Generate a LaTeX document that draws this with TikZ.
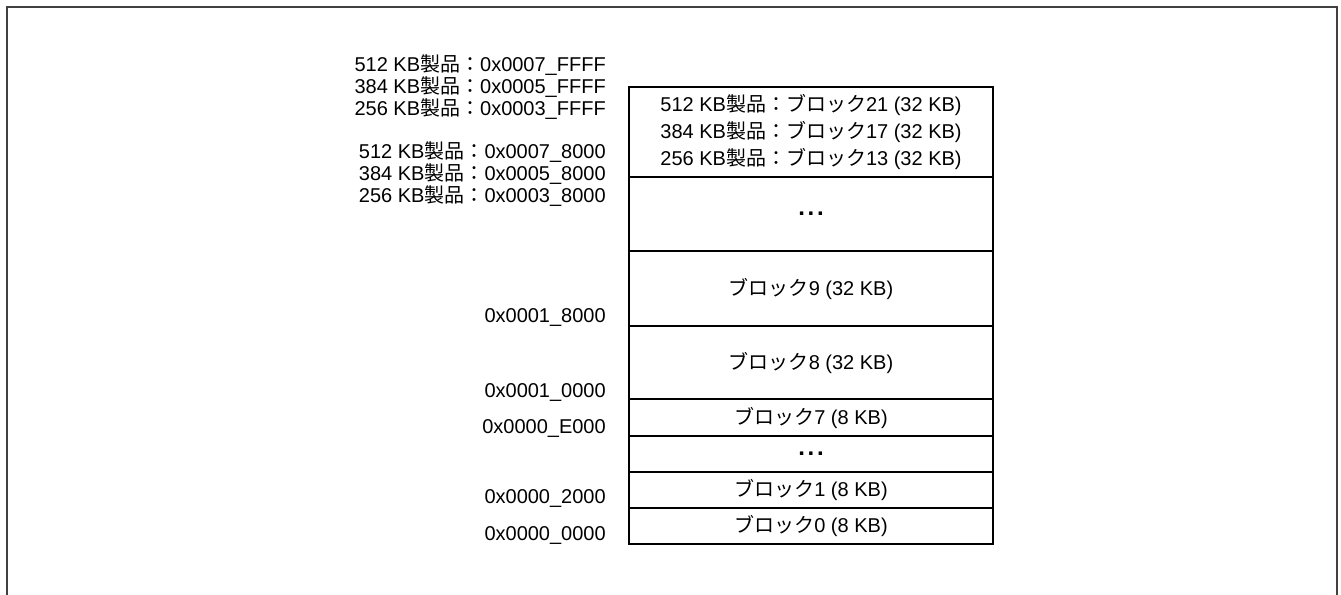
\documentclass[tikz,border=0pt]{standalone}
\usepackage{fontspec}
\setmainfont{Liberation Sans}
\newfontfamily\jpfont{Noto Sans CJK JP}
\newcommand{\jtxt}[1]{{\jpfont #1}}
\newcommand{\blkdots}{{\bfseries\fontsize{18}{18}\selectfont .\kern2pt.\kern2pt.}}
\usetikzlibrary{positioning}

\begin{document}
\begin{tikzpicture}[x=0.75pt, y=-0.75pt,
    every node/.style={font=\fontsize{15}{16.3}\selectfont},
    blk/.style={draw, line width=1.2pt, minimum width=273pt, inner sep=0pt, outer sep=0pt, align=center},
    addr/.style={anchor=east, inner sep=0pt, align=right},
    frame/.style={draw=black!75, line width=1.5pt}]
  \useasboundingbox (0,0) rectangle (1341,594);
  \draw[frame] (7,600) -- (7,7) -- (1337,7) -- (1337,600);

  % flash blocks, top to bottom
  \node[blk, anchor=north, minimum height=67.5pt, font=\fontsize{15}{20.25}\selectfont] (b21) at (811,87)
    {512 KB\jtxt{製品：ブロック}21 (32 KB)\\384 KB\jtxt{製品：ブロック}17 (32 KB)\\256 KB\jtxt{製品：ブロック}13 (32 KB)};
  \node[blk, minimum height=55.5pt, below=0pt of b21] (dotsHi) {\blkdots};
  \node[blk, minimum height=56.25pt, below=0pt of dotsHi] (b9) {\jtxt{ブロック}9 (32 KB)};
  \node[blk, minimum height=54.75pt, below=0pt of b9] (b8) {\jtxt{ブロック}8 (32 KB)};
  \node[blk, minimum height=27.75pt, below=0pt of b8] (b7) {\jtxt{ブロック}7 (8 KB)};
  \node[blk, minimum height=27pt, below=0pt of b7] (dotsLo) {\blkdots};
  \node[blk, minimum height=27pt, below=0pt of dotsLo] (b1) {\jtxt{ブロック}1 (8 KB)};
  \node[blk, minimum height=27pt, below=0pt of b1] (b0) {\jtxt{ブロック}0 (8 KB)};

  % addresses
  \node[addr] (endAddr) at (606,87)
    {512 KB\jtxt{製品：}0x0007\_FFFF\\384 KB\jtxt{製品：}0x0005\_FFFF\\256 KB\jtxt{製品：}0x0003\_FFFF};
  \node[addr] (lastAddr) at (606,174)
    {512 KB\jtxt{製品：}0x0007\_8000\\384 KB\jtxt{製品：}0x0005\_8000\\256 KB\jtxt{製品：}0x0003\_8000};
  \node[addr] (a18000) at (606,317) {0x0001\_8000};
  \node[addr] (a10000) at (606,392) {0x0001\_0000};
  \node[addr] (aE000) at (606,428) {0x0000\_E000};
  \node[addr] (a2000) at (606,498) {0x0000\_2000};
  \node[addr] (a0000) at (606,535) {0x0000\_0000};
\end{tikzpicture}
\end{document}
